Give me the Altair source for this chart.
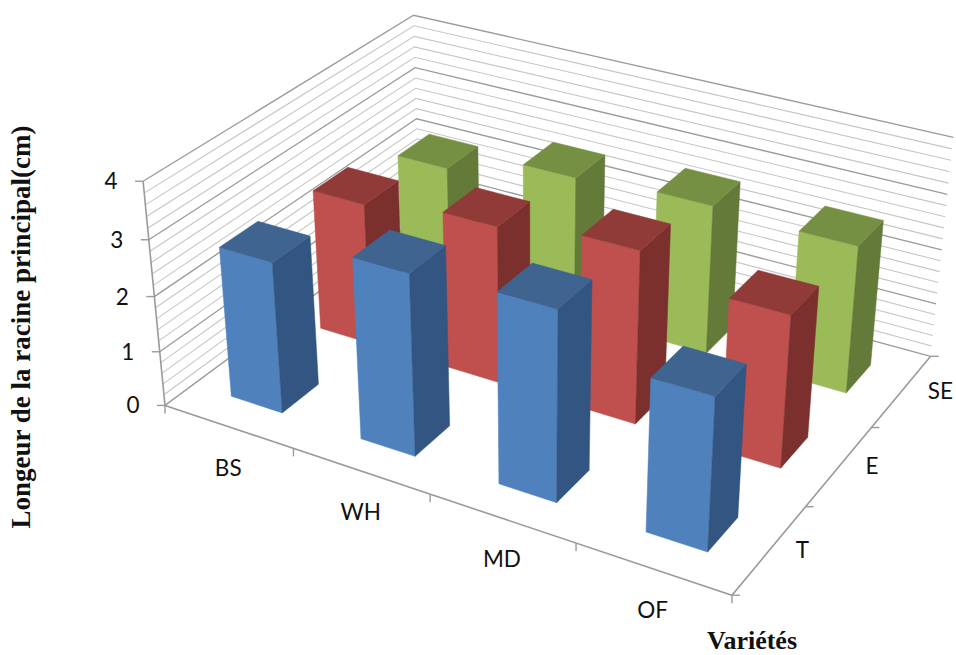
import altair as alt
import numpy as np

# Values shown by the bars
varietes = ["BS", "WH", "MD", "OF"]
traitements = ["T", "E", "SE"]
valeurs_t = [2.72, 3.22, 3.33, 2.65]
valeurs_e = [2.6, 2.85, 3.1, 2.7]
valeurs_se = [2.18, 2.62, 2.74, 2.68]
z_ticks = [0, 1, 2, 3, 4]

# Camera: where known corners of the plot box land on the page
box_corners = [
    ((0, 0, 0), (165, 404)), ((4, 0, 0), (732, 596)),
    ((4, 3, 0), (931, 355)), ((0, 3, 0), (419, 219)),
    ((0, 0, 4), (143, 182)), ((4, 3, 4), (953, 138)),
    ((0, 3, 4), (414, 14)),
]


def solve_camera(pairs):
    rows = []
    for (X, Y, Z), (u, v) in pairs:
        rows.append([X, Y, Z, 1, 0, 0, 0, 0, -u * X, -u * Y, -u * Z, -u])
        rows.append([0, 0, 0, 0, X, Y, Z, 1, -v * X, -v * Y, -v * Z, -v])
    return np.linalg.svd(np.array(rows, float))[2][-1].reshape(3, 4)


CAMERA = solve_camera(box_corners)


def project(x, y, z):
    p = CAMERA @ np.array([x, y, z, 1.0])
    return [float(p[0] / p[2]), float(p[1] / p[2])]


def face(points, fill):
    ring = [project(*p) for p in points]
    ring.append(ring[0])
    return {"type": "Feature", "fill": fill,
            "geometry": {"type": "Polygon", "coordinates": [ring]},
            "properties": {}}


def stroke_line(points, stroke, width):
    return {"type": "Feature", "stroke": stroke, "width": width,
            "geometry": {"type": "LineString", "coordinates": points},
            "properties": {}}


PALETTE = {
    "T": ("#4F81BD", "#3F6490", "#325681"),
    "E": ("#C0504D", "#913B39", "#7B302E"),
    "SE": ("#9BBB59", "#769043", "#637A38"),
}
SERIES = {"T": valeurs_t, "E": valeurs_e, "SE": valeurs_se}
BAR_START, BAR_END = 0.3, 0.7

# Bars, painted from the far row to the near one
faces = []
for depth in (2, 1, 0):
    name = traitements[depth]
    front, top, side = PALETTE[name]
    for cat, value in enumerate(SERIES[name]):
        x0, x1 = cat + BAR_START, cat + BAR_END
        y0, y1 = depth + BAR_START, depth + BAR_END
        faces.append(face([(x0, y0, 0), (x1, y0, 0), (x1, y0, value), (x0, y0, value)], front))
        faces.append(face([(x1, y0, 0), (x1, y1, 0), (x1, y1, value), (x1, y0, value)], side))
        faces.append(face([(x0, y0, value), (x1, y0, value), (x1, y1, value), (x0, y1, value)], top))

# Wall gridlines every 0.2, heavier on whole units
MINOR, MAJOR, AXIS = "#C6C6C6", "#9C9C9C", "#9A9A9A"
lines = []
for step in range(21):
    z = step / 5
    major = step % 5 == 0
    lines.append(stroke_line(
        [project(0, 0, z), project(0, 3, z), project(4, 3, z)],
        MAJOR if major else MINOR, 1.4 if major else 1.1))

# Axis lines and tick marks
lines.append(stroke_line([project(0, 0, 0), project(4, 0, 0), project(4, 3, 0)], AXIS, 1.6))
lines.append(stroke_line([project(0, 0, 0), project(0, 0, 4)], AXIS, 1.6))
for z in z_ticks:
    u, v = project(0, 0, z)
    lines.append(stroke_line([[u - 8, v], [u, v]], AXIS, 1.4))
for cat in range(5):
    u, v = project(cat, 0, 0)
    lines.append(stroke_line([[u, v], [u, v + 8]], AXIS, 1.4))
for depth in range(4):
    u, v = project(4, depth, 0)
    lines.append(stroke_line([[u, v], [u + 8, v]], AXIS, 1.4))

# Tick labels follow the projected axes
z_labels = []
for z in z_ticks:
    u, v = project(0, 0, z)
    z_labels.append({"u": u - 32, "v": v + 1, "label": str(z)})
cat_labels = []
for cat, name in enumerate(varietes):
    u, v = project(cat + 0.5, 0, 0)
    cat_labels.append({"u": u, "v": v + 42, "label": name})
depth_labels = []
for depth, name in enumerate(traitements):
    u, v = project(4, depth + 0.5, 0)
    depth_labels.append({"u": u + 26, "v": v + 1, "label": name})

y_title = [{"u": 22, "v": 327, "label": "Longeur de la racine principal(cm)"}]
x_title = [{"u": 752, "v": 641, "label": "Variétés"}]

PROJECTION = dict(type="identity", scale=1, translate=[0, 0])


def geo_chart(features):
    return alt.Chart(alt.Data(values=features, format=alt.DataFormat(type="json")))


def text_layer(rows, **mark):
    return alt.Chart(alt.Data(values=rows)).mark_text(baseline="middle", **mark).encode(
        longitude="u:Q", latitude="v:Q", text="label:N", tooltip=alt.value(None)
    ).project(**PROJECTION)


grid_layer = geo_chart(lines).mark_geoshape(filled=False).encode(
    stroke=alt.Stroke("stroke:N", scale=None),
    strokeWidth=alt.StrokeWidth("width:Q", scale=None),
).project(**PROJECTION)

bar_layer = geo_chart(faces).mark_geoshape(strokeWidth=0.5).encode(
    fill=alt.Fill("fill:N", scale=None),
    stroke=alt.Stroke("fill:N", scale=None),
).project(**PROJECTION)

SANS = dict(font="Lato", fontSize=22.5, color="#111111")
chart = alt.layer(
    grid_layer,
    bar_layer,
    text_layer(z_labels, align="center", **SANS),
    text_layer(cat_labels, align="center", **SANS),
    text_layer(depth_labels, align="left", **SANS),
    text_layer(y_title, align="center", angle=270, font="Liberation Serif",
               fontWeight="bold", fontSize=27, color="#111111"),
    text_layer(x_title, align="center", font="Liberation Serif",
               fontWeight="bold", fontSize=26, color="#111111"),
).properties(
    width=956, height=655, padding=0, background="white",
    autosize=alt.AutoSizeParams(type="none"),
).configure_view(stroke=None)

chart.save("out.html", embed_options={"renderer": "svg", "actions": False})
